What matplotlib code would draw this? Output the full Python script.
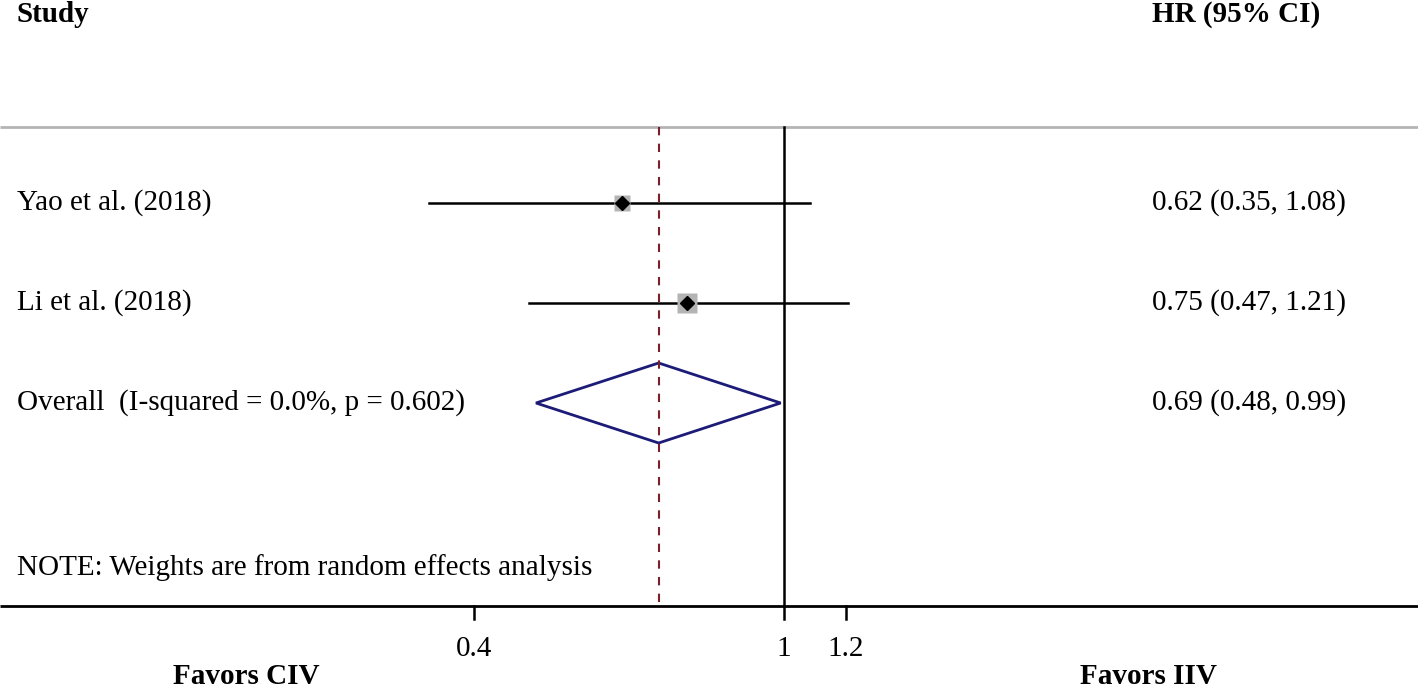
import numpy as np
import matplotlib.pyplot as plt

plt.rcParams['font.family'] = ['Liberation Serif', 'DejaVu Serif']

studies = ['Yao et al. (2018)', 'Li et al. (2018)']
hr = [0.62, 0.75]
lo = [0.35, 0.47]
hi = [1.08, 1.21]
box_size = [11, 15]

overall_label = 'Overall  (I-squared = 0.0%, p = 0.602)'
overall_hr, overall_lo, overall_hi = 0.69, 0.48, 0.99

ticks = [0.4, 1, 1.2]
tick_labels = ['0.4', '1', '1.2']

fig = plt.figure(figsize=(14.18, 6.88), dpi=100)
ax = fig.add_axes([0, 0, 1, 1])
ax.set_xscale('log')
ax.set_xlim(0.0983, 6.525)
ax.set_ylim(4.85, -2.03)
ax.axis('off')

top, bottom = -0.76, 4.03
fs = 21
xl, xr = 17/1418, 1152/1418
tr = ax.get_yaxis_transform()  # x in axes fraction, y in data

# header and frame lines
ax.text(xl, -1.88, 'Study', transform=tr, fontsize=fs, fontweight='bold', va='center')
ax.text(xr, -1.88, 'HR (95% CI)', transform=tr, fontsize=fs, fontweight='bold', va='center')
ax.plot([0, 1], [top, top], transform=tr, color='#b4b4b4', lw=2, solid_capstyle='butt')
ax.plot([0, 1], [bottom, bottom], transform=tr, color='black', lw=2, solid_capstyle='butt')

# reference lines
ax.plot([1, 1], [top, bottom], color='black', lw=1.8)
ax.plot([overall_hr, overall_hr], [top, bottom], color='#7a1f2b', lw=1.5, dashes=(4, 4))

# studies
for i, (name, h, l, u, s) in enumerate(zip(studies, hr, lo, hi, box_size)):
    ax.plot([l, u], [i, i], color='black', lw=1.8)
    ax.plot(h, i, marker='s', ms=s, color='#b4b4b4', mec='none')
    ax.plot(h, i, marker='D', ms=7, color='black')
    ax.text(xl, i, name, transform=tr, fontsize=fs, va='center')
    ax.text(xr, i, f'{h:.2f} ({l:.2f}, {u:.2f})', transform=tr, fontsize=fs, va='center')

# overall diamond
r = len(studies)
ax.fill([overall_lo, overall_hr, overall_hi, overall_hr, overall_lo],
        [r, r - 0.4, r, r + 0.4, r], facecolor='none', edgecolor='#1c1c78', lw=2)
ax.text(xl, r, overall_label, transform=tr, fontsize=fs, va='center')
ax.text(xr, r, f'{overall_hr:.2f} ({overall_lo:.2f}, {overall_hi:.2f})',
        transform=tr, fontsize=fs, va='center')

ax.text(xl, 3.65, 'NOTE: Weights are from random effects analysis', transform=tr,
        fontsize=fs, va='center')

# x ticks
for t, lab in zip(ticks, tick_labels):
    ax.plot([t, t], [bottom, bottom + 0.13], color='black', lw=1.8)
    ax.text(t, 4.46, lab, fontsize=fs, ha='center', va='center')

ax.text(246/1418, 4.74, 'Favors CIV', transform=tr, fontsize=fs, fontweight='bold', ha='center', va='center')
ax.text(1149/1418, 4.74, 'Favors IIV', transform=tr, fontsize=fs, fontweight='bold', ha='center', va='center')

fig.savefig('out.png', dpi=100, facecolor='white')
